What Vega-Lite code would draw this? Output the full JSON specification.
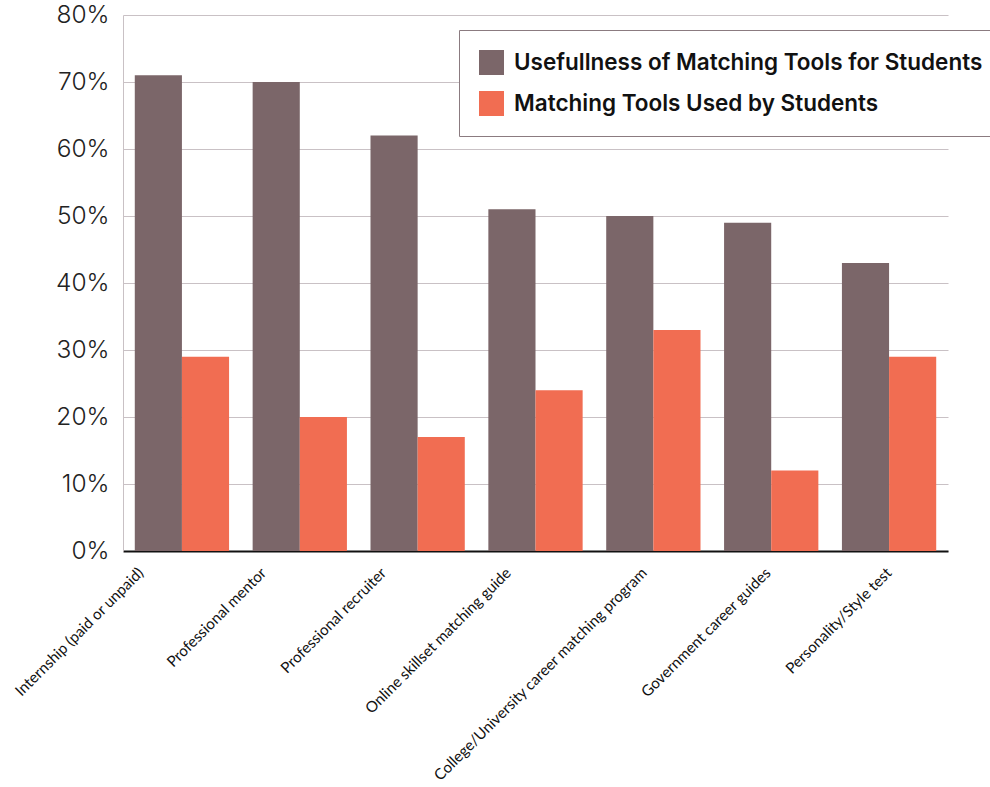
{
  "$schema": "https://vega.github.io/schema/vega-lite/v6.json",
  "autosize": "none",
  "width": 825,
  "height": 536,
  "padding": {"left": 123, "top": 15, "right": 42, "bottom": 236},
  "background": "white",
  "data": {
    "values": [
      {"tool": "Internship (paid or unpaid)", "series": "Usefullness of Matching Tools for Students", "value": 0.71},
      {"tool": "Internship (paid or unpaid)", "series": "Matching Tools Used by Students", "value": 0.29},
      {"tool": "Professional mentor", "series": "Usefullness of Matching Tools for Students", "value": 0.70},
      {"tool": "Professional mentor", "series": "Matching Tools Used by Students", "value": 0.20},
      {"tool": "Professional recruiter", "series": "Usefullness of Matching Tools for Students", "value": 0.62},
      {"tool": "Professional recruiter", "series": "Matching Tools Used by Students", "value": 0.17},
      {"tool": "Online skillset matching guide", "series": "Usefullness of Matching Tools for Students", "value": 0.51},
      {"tool": "Online skillset matching guide", "series": "Matching Tools Used by Students", "value": 0.24},
      {"tool": "College/University career matching program", "series": "Usefullness of Matching Tools for Students", "value": 0.50},
      {"tool": "College/University career matching program", "series": "Matching Tools Used by Students", "value": 0.33},
      {"tool": "Government career guides", "series": "Usefullness of Matching Tools for Students", "value": 0.49},
      {"tool": "Government career guides", "series": "Matching Tools Used by Students", "value": 0.12},
      {"tool": "Personality/Style test", "series": "Usefullness of Matching Tools for Students", "value": 0.43},
      {"tool": "Personality/Style test", "series": "Matching Tools Used by Students", "value": 0.29}
    ]
  },
  "mark": {"type": "bar"},
  "encoding": {
    "x": {
      "field": "tool",
      "type": "nominal",
      "sort": null,
      "title": null,
      "scale": {"paddingInner": 0.2, "paddingOuter": 0.1},
      "axis": {
        "labelAngle": -45,
        "labelFont": "Lato",
        "labelFontSize": 15.2,
        "labelColor": "#111111",
        "labelOffset": {
          "condition": [
            {"test": "datum.value === 'Internship (paid or unpaid)'", "value": -46},
            {"test": "datum.value === 'Professional mentor'", "value": -41},
            {"test": "datum.value === 'Professional recruiter'", "value": -39},
            {"test": "datum.value === 'Online skillset matching guide'", "value": -32},
            {"test": "datum.value === 'College/University career matching program'", "value": -14},
            {"test": "datum.value === 'Government career guides'", "value": -8}
          ],
          "value": -5
        },
        "labelPadding": 14,
        "ticks": false,
        "domainColor": "#111111",
        "domainWidth": 2,
        "labelLimit": 400
      }
    },
    "xOffset": {"field": "series", "type": "nominal", "sort": null},
    "y": {
      "field": "value",
      "type": "quantitative",
      "title": null,
      "scale": {"domain": [0, 0.8]},
      "axis": {
        "format": ".0%",
        "values": [0, 0.1, 0.2, 0.3, 0.4, 0.5, 0.6, 0.7, 0.8],
        "labelOverlap": false,
        "labelFont": "Inter",
        "labelFontSize": 24.5,
        "labelFontWeight": 300,
        "labelColor": "#222222",
        "labelPadding": 14,
        "ticks": false,
        "domainColor": "#c9c1c5",
        "gridColor": "#c9c1c5",
        "gridWidth": 1
      }
    },
    "color": {
      "field": "series",
      "type": "nominal",
      "sort": null,
      "title": null,
      "scale": {
        "domain": ["Usefullness of Matching Tools for Students", "Matching Tools Used by Students"],
        "range": ["#7b6669", "#f16d52"]
      },
      "legend": {
        "orient": "none",
        "legendX": 336,
        "legendY": 15,
        "symbolType": "square",
        "symbolSize": 625,
        "symbolStrokeWidth": 0,
        "labelFont": "Inter",
        "labelFontSize": 22.5,
        "labelFontWeight": 600,
        "labelColor": "#111111",
        "labelOffset": 10,
        "labelLimit": 600,
        "rowPadding": 16,
        "padding": 20,
        "strokeColor": "#8b7b80",
        "fillColor": "white"
      }
    }
  },
  "config": {
    "view": {"stroke": null}
  }
}
